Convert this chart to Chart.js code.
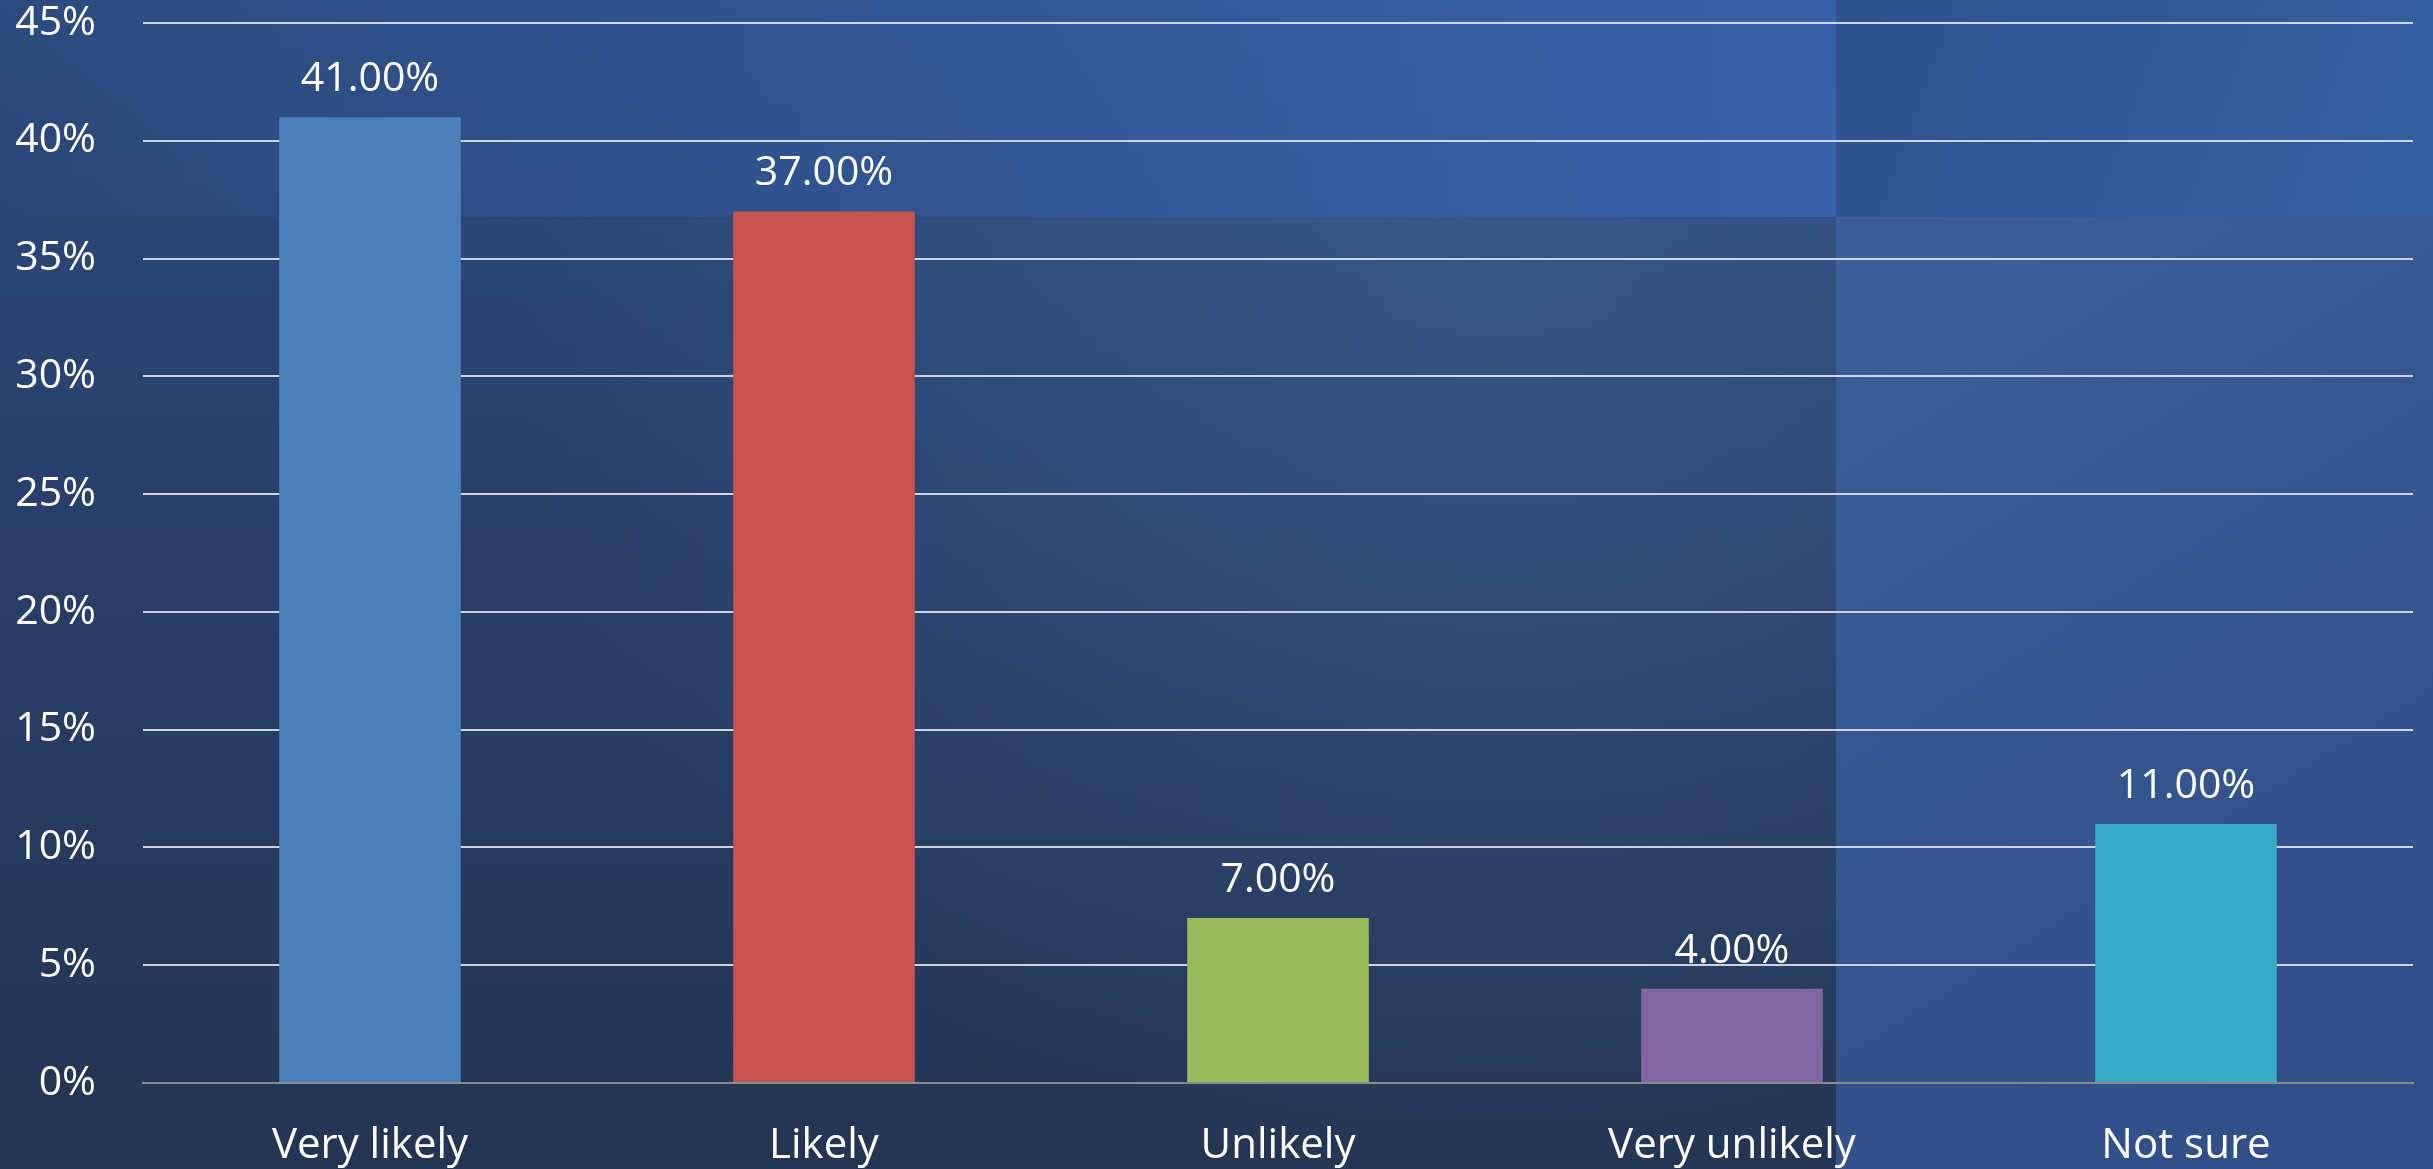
<!DOCTYPE html>
<html>
<head>
<meta charset="utf-8">
<title>Likelihood survey</title>
<script src="https://cdn.jsdelivr.net/npm/chart.js@4.4.1/dist/chart.umd.min.js"></script>
<style>
  html, body { margin: 0; padding: 0; overflow: hidden; background: #263858; }
  canvas { display: block; }
</style>
</head>
<body>
<canvas id="graph" width="2433" height="1169"></canvas>
<script>
const categories = ["Very likely", "Likely", "Unlikely", "Very unlikely", "Not sure"];
const values = [41, 37, 7, 4, 11];
const barColors = ["#4b7fb9", "#c75350", "#9aba5e", "#8165a0", "#38abc6"];
const yTicks = [0, 5, 10, 15, 20, 25, 30, 35, 40, 45];

const FONT = "'Open Sans', 'DejaVu Sans', sans-serif";

// slide-like background: dark navy with lighter panels
const backdrop = {
  id: "backdrop",
  beforeDraw(chart) {
    const ctx = chart.ctx;
    const w = chart.width, h = chart.height;
    const split = 1836, band = 217;
    ctx.save();

    // main dark area
    let g = ctx.createLinearGradient(0, 0, 0, h);
    g.addColorStop(0, "#2c4a7e");
    g.addColorStop(0.45, "#283f69");
    g.addColorStop(1, "#233552");
    ctx.fillStyle = g;
    ctx.fillRect(0, 0, split, h);

    // lighter glow toward the upper right of the main area
    g = ctx.createRadialGradient(1500, band, 0, 1500, band, 1000);
    g.addColorStop(0, "rgba(72,108,160,0.45)");
    g.addColorStop(1, "rgba(72,108,160,0)");
    ctx.fillStyle = g;
    ctx.fillRect(0, band, split, h - band);

    // top band, fading in from the left
    g = ctx.createLinearGradient(0, 0, split, 0);
    g.addColorStop(0, "rgba(56,97,168,0)");
    g.addColorStop(0.25, "rgba(56,97,168,0.3)");
    g.addColorStop(1, "rgba(56,97,168,1)");
    ctx.fillStyle = g;
    ctx.fillRect(0, 0, split, band);

    g = ctx.createLinearGradient(split, 0, w, band);
    g.addColorStop(0, "#2e528e");
    g.addColorStop(1, "#3460a0");
    ctx.fillStyle = g;
    ctx.fillRect(split, 0, w - split, band);

    g = ctx.createLinearGradient(split, band, w, h);
    g.addColorStop(0, "#3c5e9a");
    g.addColorStop(1, "#2f4d86");
    ctx.fillStyle = g;
    ctx.fillRect(split, band, w - split, h - band);

    ctx.restore();
  }
};

// value labels above each bar
const valueLabels = {
  id: "valueLabels",
  afterDatasetsDraw(chart) {
    const ctx = chart.ctx;
    const meta = chart.getDatasetMeta(0);
    ctx.save();
    ctx.font = "41px " + FONT;
    ctx.fillStyle = "#ffffff";
    ctx.textAlign = "center";
    ctx.textBaseline = "alphabetic";
    meta.data.forEach((bar, i) => {
      ctx.fillText(values[i].toFixed(2) + "%", bar.x, bar.y - 26);
    });
    ctx.restore();
  }
};

const data = {
  labels: categories,
  datasets: [
    {
      label: "Share",
      data: values,
      backgroundColor: barColors,
      borderWidth: 0,
      categoryPercentage: 1,
      barPercentage: 0.4,
    },
  ],
};

const config = {
  type: "bar",
  data,
  plugins: [backdrop, valueLabels],
  options: {
    responsive: false,
    animation: false,
    layout: { padding: { top: 23, right: 20, bottom: 0, left: 0 } },
    plugins: {
      legend: { display: false },
      tooltip: { enabled: false },
    },
    scales: {
      x: {
        grid: { display: false, drawTicks: false },
        border: { display: true, color: "#8a8a8a", width: 2 },
        ticks: {
          color: "#ffffff",
          font: { family: FONT, size: 42 },
          padding: 38,
          maxRotation: 0,
          autoSkip: false,
        },
        afterFit(scale) {
          scale.height = 86;
          scale.paddingLeft = 0;
          scale.paddingRight = 0;
        },
      },
      y: {
        min: 0,
        max: 45,
        afterBuildTicks(scale) {
          scale.ticks = yTicks.map((v) => ({ value: v }));
        },
        grid: {
          drawTicks: false,
          lineWidth: 2,
          color: (c) => (c.tick && c.tick.value === 0 ? "#8a8a8a" : "rgba(214,218,228,0.95)"),
        },
        border: { display: false },
        ticks: {
          color: "#ffffff",
          font: { family: FONT, size: 41 },
          padding: 47,
          callback: (v) => v + "%",
        },
        afterFit(scale) {
          scale.width = 143;
          scale.paddingTop = 0;
          scale.paddingBottom = 0;
        },
      },
    },
  },
};

const graphic = new Chart(document.getElementById("graph"), config);
</script>
</body>
</html>
